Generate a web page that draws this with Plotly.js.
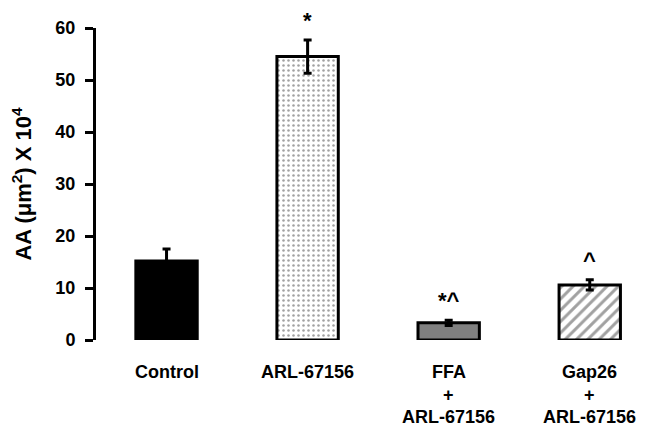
<!DOCTYPE html>
<html>
<head>
<meta charset="utf-8">
<script src="https://cdn.plot.ly/plotly-3.0.1.min.js"></script>
<style>html,body{margin:0;padding:0;background:#fff;}#chart{width:649px;height:429px;}</style>
</head>
<body>
<div id="chart"></div>
<script>
var categories = ["Control", "ARL-67156", "FFA + ARL-67156", "Gap26 + ARL-67156"];
var values = [15.2, 54.5, 3.3, 10.6];
var errors = [2.3, 3.2, 0.5, 1.0];
var significance = ["", "*", "*^", "^"];
var labelLines = [["Control"], ["ARL-67156"], ["FFA", "+", "ARL-67156"], ["Gap26", "+", "ARL-67156"]];
var yTicks = [0, 10, 20, 30, 40, 50, 60];

var fillColors = ["#000000", "#ffffff", "#808080", "#ffffff"];
var patternShapes = ["", ".", "", "/"];
var patternFg = ["#000000", "#c4c4c4", "#000000", "#555555"];
var patternSize = [8, 5, 8, 8];
var patternSolidity = [0.3, 0.2, 0.3, 0.38];

var xIdx = categories.map(function(c, i){ return i; });
var FONT = "Liberation Sans, Arial, sans-serif";

var trace = {
  type: "bar",
  x: xIdx,
  y: values,
  width: 0.435,
  marker: {
    color: fillColors,
    line: {color: "#000000", width: 3},
    pattern: {
      shape: patternShapes,
      fgcolor: patternFg,
      bgcolor: fillColors,
      size: patternSize,
      solidity: patternSolidity,
      fillmode: "overlay"
    }
  },
  error_y: {type: "data", array: errors, visible: true, color: "#000000", thickness: 3, width: 4},
  hoverinfo: "skip"
};

var annotations = [];
significance.forEach(function(s, i){
  if (!s) return;
  annotations.push({
    x: i, y: values[i] + errors[i], xref: "x", yref: "y",
    text: "<b>" + s + "</b>", showarrow: false,
    yanchor: "bottom", yshift: 5,
    font: {family: FONT, size: 22, color: "#000"}
  });
});
var lineShifts = [-32, -55, -77];
labelLines.forEach(function(lines, i){
  lines.forEach(function(t, j){
    annotations.push({
      x: i, y: 0, xref: "x", yref: "paper",
      text: "<b>" + t + "</b>", showarrow: false,
      yanchor: "middle", yshift: lineShifts[j],
      font: {family: FONT, size: 18, color: "#000"}
    });
  });
});

var layout = {
  width: 649, height: 429,
  margin: {l: 96, r: 0, t: 28, b: 89},
  paper_bgcolor: "#ffffff", plot_bgcolor: "#ffffff",
  showlegend: false,
  font: {family: FONT, color: "#000"},
  xaxis: {
    range: [-0.5, 3.42], showticklabels: false, showline: false,
    showgrid: false, zeroline: false, ticks: "", fixedrange: true
  },
  yaxis: {
    range: [0, 60], tickvals: yTicks, ticktext: yTicks.map(String),
    showline: true, linecolor: "#000", linewidth: 3,
    ticks: "outside", ticklen: 8, tickwidth: 3, tickcolor: "#000",
    showgrid: false, zeroline: false,
    tickfont: {family: FONT, size: 18, color: "#000", weight: "bold"},
    ticklabelstandoff: 6,
    title: {text: "<b>AA (μm<sup>2</sup>) X 10<sup>4</sup></b>", font: {family: FONT, size: 22, color: "#000"}, standoff: 18}
  },
  annotations: annotations
};

Plotly.newPlot("chart", [trace], layout, {displayModeBar: false, staticPlot: true});
</script>
</body>
</html>
